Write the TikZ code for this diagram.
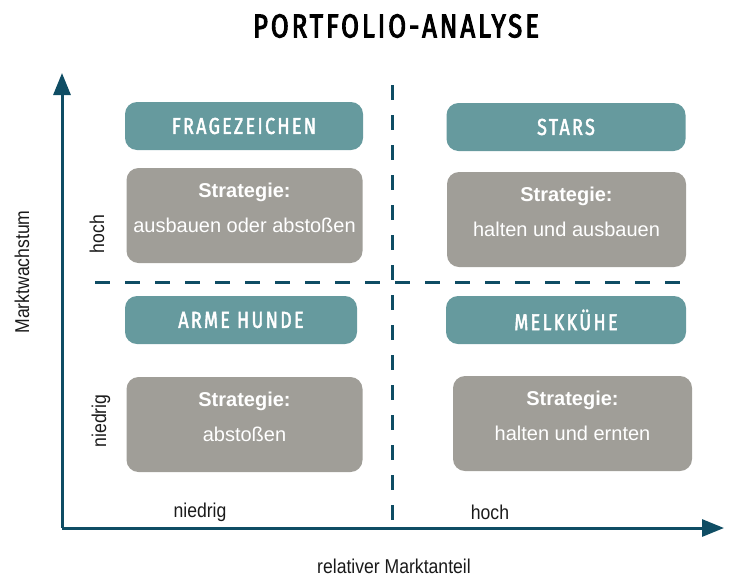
\documentclass[tikz,border=0pt]{standalone}
\usepackage{fontspec}
\setmainfont{Liberation Sans}
\newfontfamily\titlefont{Fira Sans}[FakeStretch=0.78,LetterSpace=9,FakeBold=3]
\newfontfamily\headfont{Fira Sans}[FakeStretch=0.78,LetterSpace=10,FakeBold=2]
\newfontfamily\axisfont{Liberation Sans}[FakeStretch=0.88]
\usetikzlibrary{arrows.meta,positioning}
\definecolor{headteal}{HTML}{669A9E}
\definecolor{stratgrey}{HTML}{A09E98}
\definecolor{axisblue}{HTML}{0F4D64}
\definecolor{labelgrey}{HTML}{1A1A1A}

\begin{document}
\begin{tikzpicture}[x=1pt, y=-1pt,
		head_style/.style={rounded corners=12pt,fill=headteal,text=white,inner sep=0pt,
			minimum height=48pt,font=\headfont\fontsize{23}{23}\selectfont},
		strat_style/.style={rounded corners=12pt,fill=stratgrey,inner sep=0pt,
			minimum width=236pt,minimum height=95pt},
		strat_text/.style={text=white,inner sep=0pt,align=center,anchor=north,
			font=\fontsize{20}{35}\selectfont},
		label_style/.style={text=labelgrey,inner sep=0pt,font=\axisfont\fontsize{20}{20}\selectfont},
		axis_style/.style={draw=axisblue,line width=3pt,-{Triangle[length=22pt,width=17pt]}},
		dash_style/.style={draw=axisblue,line width=3pt,dash pattern=on 15pt off 15pt}]
		
		\useasboundingbox (0,0) rectangle (730,576);
		
		\node[text=black,inner sep=0pt,font=\titlefont\fontsize{33}{33}\selectfont] (title) at (396,26) {PORTFOLIO-ANALYSE};
		
		\node[head_style,minimum width=238pt] (fz) at (244,126) {FRAGEZEICHEN};
		\node[head_style,minimum width=239pt] (st) at (566,127) {STARS};
		\node[head_style,minimum width=232pt] (ah) at (241,320) {ARME HUNDE};
		\node[head_style,minimum width=240pt] (mk) at (566,320) {MELKKÜHE};
		
		\node[strat_style] (fz_strat) at (244.5,215.5) {};
		\node[strat_style,minimum width=239pt] (st_strat) at (566.5,219.5) {};
		\node[strat_style] (ah_strat) at (244.5,424.5) {};
		\node[strat_style,minimum width=239pt] (mk_strat) at (572.5,423.5) {};
		
		\node[strat_text,below=15pt of fz_strat.north] (fz_text) {\textbf{Strategie:}\\ausbauen oder abstoßen};
		\node[strat_text,below=15pt of st_strat.north] (st_text) {\textbf{Strategie:}\\halten und ausbauen};
		\node[strat_text,below=15pt of ah_strat.north] (ah_text) {\textbf{Strategie:}\\abstoßen};
		\node[strat_text,below=15pt of mk_strat.north] (mk_text) {\textbf{Strategie:}\\halten und ernten};
		
		\coordinate (origin) at (62,528);
		\coordinate (y_end) at (62,73);
		\coordinate (x_end) at (724,528);
		\coordinate (v_top) at (392,85);
		\coordinate (v_bot) at (392,528);
		\coordinate (h_left) at (95,282);
		\coordinate (h_right) at (688,282);
		
		\draw[dash_style] (v_top) -- (v_bot);
		\draw[dash_style] (h_left) -- (h_right);
		\draw[axis_style] (origin) -- (y_end);
		\draw[axis_style] (origin) -- (x_end);
		
		\node[label_style,rotate=90] (y_label) at (22,272) {Marktwachstum};
		\node[label_style,rotate=90] (y_high) at (97,234) {hoch};
		\node[label_style,rotate=90] (y_low) at (101,421) {niedrig};
		\node[label_style] (x_low) at (200,512) {niedrig};
		\node[label_style] (x_high) at (490,512) {hoch};
		\node[label_style] (x_label) at (394,566) {relativer Marktanteil};
		
\end{tikzpicture}
\end{document}
